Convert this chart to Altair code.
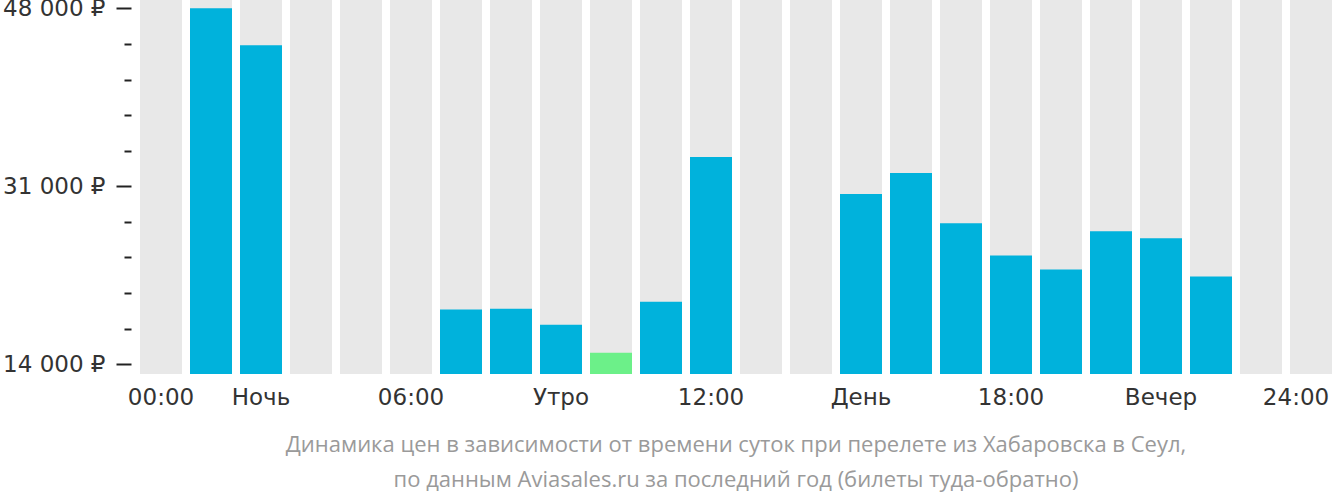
import altair as alt
import pandas as pd

# ---- data ----
HOURS = list(range(24))
PRICES = [None, 48000, 44480, None, None, None, 19220, 19310, 17770, 15090,
          19980, 33810, None, None, 30260, 32280, 27480, 24400, 23060, 26710,
          26030, 22390, None, None]

X_TICK_HOURS = [0, 2, 5, 8, 11, 14, 17, 20, 23]
X_TICK_LABELS = ["00:00", "Ночь", "06:00", "Утро", "12:00", "День", "18:00", "Вечер", "24:00"]

Y_MAJOR_VALUES = [14000, 31000, 48000]
Y_MAJOR_LABELS = ["14 000 ₽", "31 000 ₽", "48 000 ₽"]
Y_ALL_TICKS = [14000, 17400, 20800, 24200, 27600, 31000, 34400, 37800, 41200, 44600, 48000]

Y_MIN, Y_MAX = 13068, 48797

CAPTION = [
    "Динамика цен в зависимости от времени суток при перелете из Хабаровска в Сеул,",
    "по данным Aviasales.ru за последний год (билеты туда-обратно)",
]

BLUE = "#00B2DC"
GREEN = "#6CF089"
GRAY = "#E8E8E8"

min_price = min(p for p in PRICES if p is not None)
df = pd.DataFrame({
    "hour": HOURS,
    "price": PRICES,
    "top": [Y_MAX] * len(HOURS),
    "base": [Y_MIN] * len(HOURS),
})
df["cheapest"] = df["price"] == min_price

x_label_expr = " : ".join(
    f"datum.value == {h} ? '{l}'" for h, l in zip(X_TICK_HOURS, X_TICK_LABELS)
) + " : ''"
y_label_expr = " : ".join(
    f"datum.value == {v} ? '{l}'" for v, l in zip(Y_MAJOR_VALUES, Y_MAJOR_LABELS)
) + " : ''"
major_test = " || ".join(f"datum.value == {v}" for v in Y_MAJOR_VALUES)
last_hour = X_TICK_HOURS[-1]

x_enc = alt.X(
    "hour:O",
    sort=HOURS,
    scale=alt.Scale(paddingInner=0.16, paddingOuter=0),
    axis=alt.Axis(
        values=X_TICK_HOURS,
        labelExpr=x_label_expr,
        labelAngle=0,
        labelOverlap=False,
        labelOffset={"condition": {"test": f"datum.value == {last_hour}", "value": -15}, "value": 0},
        ticks=False,
        domain=False,
        title=None,
        labelFont="DejaVu Sans",
        labelFontSize=23,
        labelColor="#333333",
        labelPadding=12,
    ),
)

y_scale = alt.Scale(domain=[Y_MIN, Y_MAX], zero=False, nice=False)

bg = alt.Chart(df).mark_bar(color=GRAY).encode(
    x=x_enc,
    y=alt.Y(
        "top:Q",
        scale=y_scale,
        axis=alt.Axis(
            values=Y_ALL_TICKS,
            tickCount=len(Y_ALL_TICKS) * 2,
            labelExpr=y_label_expr,
            labelOverlap=False,
            tickSize={"condition": {"test": major_test, "value": 15}, "value": 7},
            tickWidth=2,
            tickColor="#222222",
            domain=False,
            grid=False,
            offset=9,
            labelPadding=11,
            labelFont="DejaVu Sans",
            labelFontSize=23,
            labelColor="#333333",
            title=None,
        ),
    ),
    y2="base:Q",
)

bars = alt.Chart(df).transform_filter("datum.price != null").mark_bar().encode(
    x=alt.X("hour:O", sort=HOURS),
    y=alt.Y("price:Q", scale=y_scale),
    y2="base:Q",
    color=alt.condition("datum.cheapest", alt.value(GREEN), alt.value(BLUE)),
)

chart = alt.layer(bg, bars).properties(
    width=1192,
    height=374,
    autosize=alt.AutoSizeParams(type="none"),
    padding={"left": 140, "top": 0, "right": 0, "bottom": 128},
    title=alt.TitleParams(
        text=CAPTION,
        orient="bottom",
        anchor="middle",
        frame="group",
        font="Open Sans",
        fontSize=22,
        fontWeight="normal",
        color="#9A9A9A",
        lineHeight=35,
        offset=26,
    ),
).configure_view(stroke=None)

chart.save("out.html", embed_options={"renderer": "svg", "actions": False})
